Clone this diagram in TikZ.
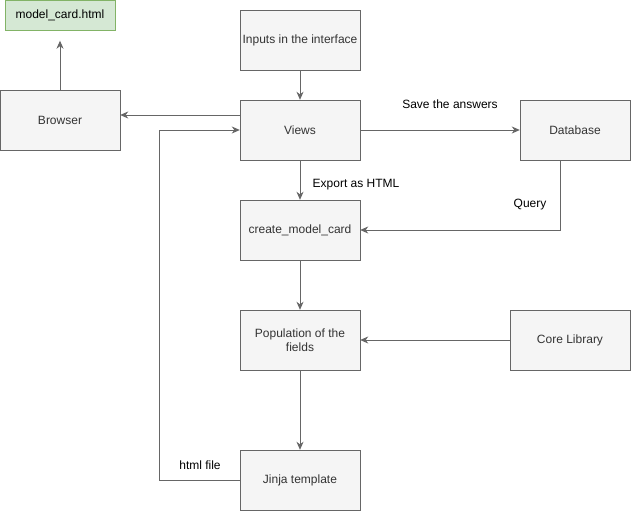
\documentclass[tikz,border=0pt]{standalone}
\usepackage{fontspec}
\setmainfont{Liberation Sans}
\usetikzlibrary{positioning,arrows.meta,calc}
\definecolor{boxfill}{HTML}{F5F5F5}
\definecolor{boxline}{HTML}{666666}
\definecolor{boxtext}{HTML}{333333}
\definecolor{filefill}{HTML}{D5E8D4}
\definecolor{fileline}{HTML}{82B366}

\begin{document}
\begin{tikzpicture}[x=1pt, y=-1pt,
  mybox/.style={draw=boxline, fill=boxfill, text=boxtext, minimum width=120pt, minimum height=60pt, inner sep=0pt, align=center, font=\fontsize{12}{14}\selectfont},
  myfile/.style={mybox, draw=fileline, fill=filefill, text=black, minimum width=110pt, minimum height=30pt},
  link/.style={draw=boxline, line width=1pt, -{Stealth[length=8pt, width=7pt, inset=2.5pt]}},
  tag/.style={inner sep=0pt, font=\fontsize{12}{14}\selectfont}
  ]
  \useasboundingbox (0,0) rectangle (631,511);

  \node[myfile] (file) at (60,15.5) {model\_card.html};
  \node[mybox] (inputs) at (300,40) {Inputs in the interface};
  \node[mybox] (browser) at (60,120) {Browser};
  \node[mybox] (views) at (300,130) {Views};
  \node[mybox, minimum width=110pt] (database) at (575,130) {Database};
  \node[mybox] (create) at (300,230) {create\_model\_card};
  \node[mybox] (population) at (300,340) {Population of the\\fields};
  \node[mybox] (core) at (570,340) {Core Library};
  \node[mybox] (jinja) at (300,480) {Jinja template};

  \coordinate (toBrowser) at ([yshift=15pt]views.west);
  \coordinate (fromDb) at ([xshift=-15pt]database.south);

  \draw[link] (inputs) -- (views);
  \draw[link] (toBrowser) -- (toBrowser -| browser.east);
  \draw[link, shorten >=10pt] (browser) -- (file);
  \draw[link] (views) -- (database);
  \draw[link] (views) -- (create);
  \draw[link] (fromDb) |- (create.east);
  \draw[link] (create) -- (population);
  \draw[link] (core) -- (population);
  \draw[link] (population) -- (jinja);
  \draw[link] (jinja.west) -- ++(-80,0) |- (views.west);

  \node[tag] (save) at (450,104) {Save the answers};
  \node[tag] (export) at (356,185) {Export as HTML};
  \node[tag] (query) at (530,205) {Query};
  \node[tag] (html) at (200,465) {html file};

\end{tikzpicture}
\end{document}
